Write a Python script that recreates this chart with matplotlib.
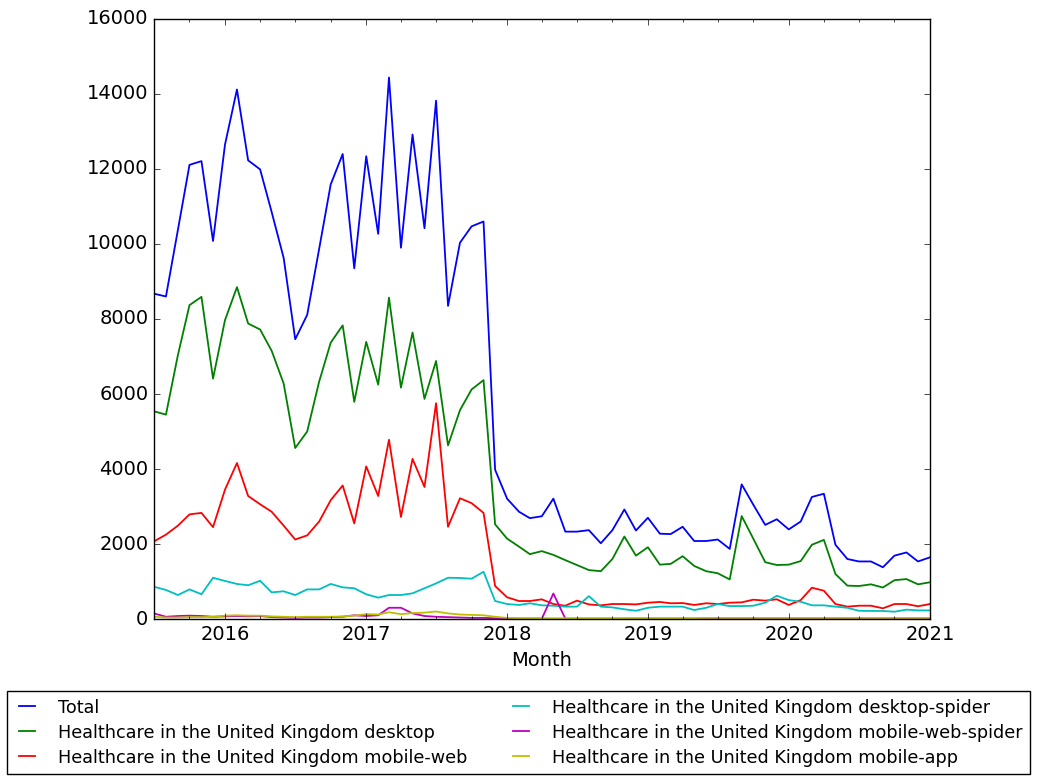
import numpy as np
import pandas as pd
import matplotlib
matplotlib.use('Agg')
import matplotlib.pyplot as plt
import matplotlib.dates as mdates

# monthly page views, Jul 2015 - Jan 2021
months = pd.date_range('2015-07-01', periods=67, freq='MS')

total = [8675, 8600, 10380, 12110, 12210, 10080, 12650, 14120, 12230, 11990,
         10850, 9630, 7460, 8110, 9870, 11590, 12400, 9350, 12340, 10270,
         14440, 9900, 12920, 10420, 13820, 8350, 10035, 10470, 10600, 3980,
         3210, 2860, 2690, 2740, 3210, 2330, 2330, 2370, 2020, 2370,
         2920, 2360, 2700, 2275, 2265, 2460, 2080, 2080, 2120, 1870,
         3590, 3050, 2510, 2660, 2390, 2600, 3255, 3340, 1980, 1600,
         1535, 1535, 1380, 1690, 1775, 1535, 1645]

desktop = [5540, 5450, 7040, 8370, 8590, 6410, 7970, 8850, 7880, 7720,
           7150, 6280, 4560, 5000, 6330, 7370, 7830, 5790, 7390, 6250,
           8570, 6170, 7640, 5870, 6880, 4630, 5570, 6120, 6370, 2525,
           2145, 1930, 1730, 1810, 1710, 1570, 1440, 1305, 1275, 1600,
           2200, 1690, 1915, 1450, 1470, 1675, 1415, 1275, 1220, 1055,
           2745, 2145, 1515, 1440, 1450, 1545, 1980, 2110, 1200, 890,
           880, 925, 840, 1035, 1065, 925, 980]

mobile_web = [2070, 2250, 2490, 2790, 2830, 2450, 3450, 4160, 3280, 3060,
              2860, 2490, 2120, 2230, 2600, 3170, 3560, 2550, 4070, 3280,
              4780, 2720, 4270, 3520, 5755, 2460, 3220, 3090, 2830, 880,
              580, 480, 480, 525, 400, 355, 490, 390, 365, 400,
              400, 390, 435, 455, 420, 425, 375, 420, 400, 435,
              445, 515, 490, 525, 375, 505, 835, 755, 400, 330,
              355, 355, 285, 400, 400, 340, 400]

desktop_spider = [860, 775, 640, 790, 660, 1100, 1015, 935, 900, 1020,
                  710, 740, 640, 790, 790, 935, 845, 820, 660, 570,
                  640, 640, 685, 820, 950, 1100, 1095, 1075, 1260, 480,
                  400, 375, 420, 365, 355, 330, 330, 610, 330, 310,
                  260, 220, 300, 330, 330, 330, 240, 300, 400, 345,
                  345, 355, 435, 620, 505, 460, 365, 365, 330, 300,
                  220, 215, 215, 195, 250, 230, 230]

mobile_web_spider = [150, 60, 80, 90, 80, 60, 70, 80, 70, 80,
                     50, 40, 30, 40, 40, 50, 60, 100, 80, 100,
                     300, 300, 150, 80, 60, 50, 40, 30, 30, 20,
                     15, 10, 10, 10, 680, 10, 10, 10, 10, 10,
                     10, 10, 10, 10, 10, 10, 10, 10, 10, 10,
                     10, 10, 10, 10, 10, 10, 10, 10, 15, 20,
                     20, 20, 20, 20, 20, 20, 20]

mobile_app = [60, 40, 40, 50, 50, 60, 90, 100, 90, 90,
              70, 60, 50, 60, 60, 60, 70, 90, 130, 120,
              180, 130, 160, 170, 200, 150, 120, 110, 100, 60,
              30, 25, 25, 25, 20, 20, 20, 20, 20, 20,
              25, 25, 25, 25, 25, 25, 25, 30, 30, 30,
              30, 30, 30, 30, 30, 30, 30, 30, 30, 30,
              30, 30, 30, 30, 30, 30, 30]

series = [
    ('Total', total, 'b'),
    ('Healthcare in the United Kingdom desktop', desktop, 'g'),
    ('Healthcare in the United Kingdom mobile-web', mobile_web, 'r'),
    ('Healthcare in the United Kingdom desktop-spider', desktop_spider, 'c'),
    ('Healthcare in the United Kingdom mobile-web-spider', mobile_web_spider, 'm'),
    ('Healthcare in the United Kingdom mobile-app', mobile_app, 'y'),
]

plt.style.use('classic')

fig = plt.figure(figsize=(10.37, 7.81), dpi=100, facecolor='white')
ax = fig.add_axes([0.1485, 0.2074, 0.7483, 0.7683])

for name, values, color in series:
    ax.plot(months, values, color=color, linewidth=1.3, label=name)

ax.set_xlim(months[0], months[-1])
ax.set_ylim(0, 16000)
ax.xaxis.set_major_locator(mdates.YearLocator())
ax.xaxis.set_major_formatter(mdates.DateFormatter('%Y'))
ax.xaxis.set_minor_locator(mdates.MonthLocator(bymonth=[1, 4, 7, 10]))
ax.tick_params(labelsize=14)
ax.set_xlabel('Month', fontsize=14)

fig.legend(loc='center', bbox_to_anchor=(0.5, 0.062), ncol=2,
           fontsize=12.7, frameon=True, handlelength=1.5, labelspacing=0.4,
           columnspacing=2.3, handletextpad=1.0, borderpad=0.4)

fig.savefig('out.png', dpi=100, facecolor='white')
